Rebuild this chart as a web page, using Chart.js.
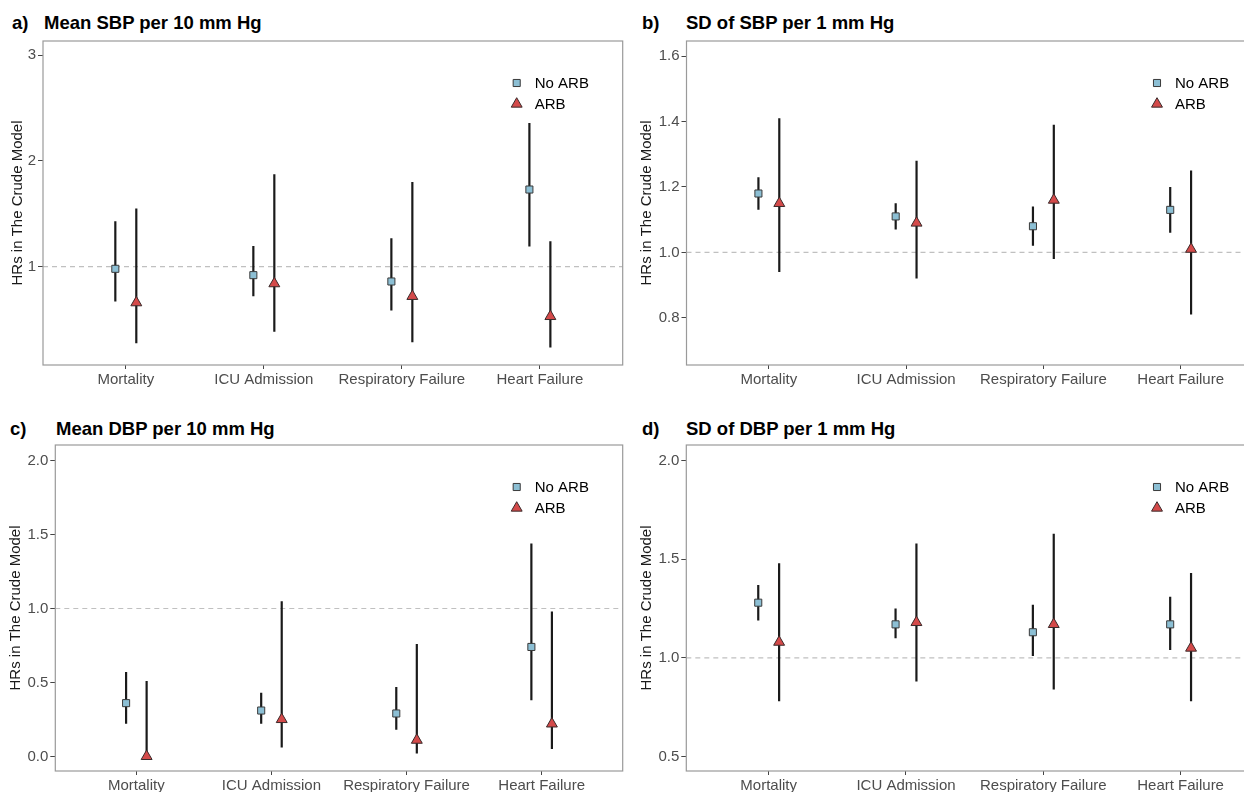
<!DOCTYPE html>
<html>
<head>
<meta charset="utf-8">
<script src="https://cdn.jsdelivr.net/npm/chart.js@4"></script>
<style>
  html, body { margin: 0; padding: 0; background: #fff; }
  body { width: 1244px; height: 792px; overflow: hidden; position: relative; font-family: "Liberation Sans", Arial, sans-serif; }
  canvas { position: absolute; }
  .ttl { position: absolute; font-weight: bold; font-size: 18.5px; line-height: 20px; color: #000; white-space: nowrap; }
</style>
</head>
<body>
<div class="ttl" style="left:12px;top:13px">a)</div>
<div class="ttl" style="left:44px;top:13px">Mean SBP per 10 mm Hg</div>
<div class="ttl" style="left:642px;top:13px">b)</div>
<div class="ttl" style="left:686px;top:13px">SD of SBP per 1 mm Hg</div>
<div class="ttl" style="left:10px;top:419px">c)</div>
<div class="ttl" style="left:56px;top:419px">Mean DBP per 10 mm Hg</div>
<div class="ttl" style="left:642px;top:419px">d)</div>
<div class="ttl" style="left:686px;top:419px">SD of DBP per 1 mm Hg</div>

<canvas id="chartA" width="630" height="392" style="left:0;top:0"></canvas>
<canvas id="chartB" width="670" height="392" style="left:620px;top:0"></canvas>
<canvas id="chartC" width="630" height="400" style="left:0;top:392px"></canvas>
<canvas id="chartD" width="670" height="400" style="left:620px;top:392px"></canvas>

<script>
const categories = ["Mortality", "ICU Admission", "Respiratory Failure", "Heart Failure"];
const seriesNames = ["No ARB", "ARB"];

// a) Mean SBP per 10 mm Hg
const sbpMeanNoArb = [0.98, 0.92, 0.86, 1.73];
const sbpMeanNoArbLo = [0.67, 0.72, 0.585, 1.19];
const sbpMeanNoArbHi = [1.43, 1.195, 1.27, 2.36];
const sbpMeanArb = [0.66, 0.84, 0.72, 0.53];
const sbpMeanArbLo = [0.275, 0.385, 0.285, 0.235];
const sbpMeanArbHi = [1.55, 1.875, 1.80, 1.24];
const sbpMeanTicks = [1, 2, 3];

// b) SD of SBP per 1 mm Hg
const sbpSdNoArb = [1.18, 1.11, 1.08, 1.13];
const sbpSdNoArbLo = [1.13, 1.07, 1.02, 1.06];
const sbpSdNoArbHi = [1.23, 1.15, 1.14, 1.20];
const sbpSdArb = [1.15, 1.09, 1.16, 1.01];
const sbpSdArbLo = [0.94, 0.92, 0.98, 0.81];
const sbpSdArbHi = [1.41, 1.28, 1.39, 1.25];
const sbpSdTicks = [0.8, 1.0, 1.2, 1.4, 1.6];

// c) Mean DBP per 10 mm Hg
const dbpMeanNoArb = [0.36, 0.31, 0.29, 0.74];
const dbpMeanNoArbLo = [0.22, 0.22, 0.18, 0.38];
const dbpMeanNoArbHi = [0.57, 0.43, 0.47, 1.44];
const dbpMeanArb = [0.0, 0.25, 0.11, 0.22];
const dbpMeanArbLo = [0.0, 0.06, 0.02, 0.05];
const dbpMeanArbHi = [0.51, 1.05, 0.76, 0.98];
const dbpMeanTicks = [0.0, 0.5, 1.0, 1.5, 2.0];

// d) SD of DBP per 1 mm Hg
const dbpSdNoArb = [1.28, 1.17, 1.13, 1.17];
const dbpSdNoArbLo = [1.19, 1.10, 1.01, 1.04];
const dbpSdNoArbHi = [1.37, 1.25, 1.27, 1.31];
const dbpSdArb = [1.08, 1.18, 1.17, 1.05];
const dbpSdArbLo = [0.78, 0.88, 0.84, 0.78];
const dbpSdArbHi = [1.48, 1.58, 1.63, 1.43];
const dbpSdTicks = [0.5, 1.0, 1.5, 2.0];

const FONT = "'Liberation Sans', Arial, sans-serif";
const DODGE = 0.076;

//枠線と凡例
const panelPlugin = {
  id: "panelBox",
  afterDatasetsDraw(chart) {
    const a = chart.chartArea;
    const c = chart.ctx;
    c.save();
    c.strokeStyle = "#9a9a9a";
    c.lineWidth = 1.2;
    c.strokeRect(a.left, a.top, a.right - a.left, a.bottom - a.top);

    // legend
    const mx = a.right - 106;
    const tx = a.right - 88;
    c.font = "15px " + FONT;
    c.textBaseline = "middle";
    chart.data.datasets.forEach(function (ds) {
      if (!ds.legendRow) return;
      const y = a.top + ds.legendRow;
      c.fillStyle = ds.backgroundColor;
      c.strokeStyle = ds.borderColor;
      c.lineWidth = ds.borderWidth;
      Chart.helpers.drawPoint(c, { pointStyle: ds.pointStyle, radius: ds.pointRadius, borderWidth: ds.borderWidth, rotation: 0 }, mx, y);
      c.fillStyle = "#000";
      c.fillText(ds.label, tx, y + 1);
    });
    c.restore();
  }
};

function ErrorBars(lo, hi, off) {
  const pts = [];
  lo.forEach(function (v, i) {
    pts.push({ x: i + 1 + off, y: lo[i] });
    pts.push({ x: i + 1 + off, y: hi[i] });
    pts.push({ x: i + 1 + off, y: null });
  });
  return pts;
}

function Points(mid, off) {
  return mid.map(function (v, i) {
    return { x: i + 1 + off, y: v };
  });
}

function CreatePanel(id, p) {
  const ctx = document.getElementById(id);
  const datasets = [
    {
      type: "scatter", label: seriesNames[0], data: Points(p.noArb, -DODGE),
      pointStyle: "rect", pointRadius: 5, borderWidth: 1,
      backgroundColor: "#8cbfd4", borderColor: "#3a3a3a", order: 0, legendRow: 42
    },
    {
      type: "scatter", label: seriesNames[1], data: Points(p.arb, DODGE),
      pointStyle: "triangle", pointRadius: 6.3, borderWidth: 1,
      backgroundColor: "#d44a4a", borderColor: "#3a2a2a", order: 0, legendRow: 63
    },
    {
      type: "line", data: ErrorBars(p.noArbLo, p.noArbHi, -DODGE),
      borderColor: "#1a1a1a", borderWidth: 2.2, pointRadius: 0, spanGaps: false, order: 1
    },
    {
      type: "line", data: ErrorBars(p.arbLo, p.arbHi, DODGE),
      borderColor: "#1a1a1a", borderWidth: 2.2, pointRadius: 0, spanGaps: false, order: 1
    },
    {
      type: "line", data: [{ x: 0.4, y: 1 }, { x: 4.6, y: 1 }],
      borderColor: "#c0c0c0", borderWidth: 1.2, borderDash: [5, 4], pointRadius: 0, order: 2
    }
  ];

  new Chart(ctx, {
    type: "scatter",
    data: { datasets: datasets },
    options: {
      responsive: false,
      animation: false,
      events: [],
      layout: { padding: { top: p.padTop, right: p.padRight, left: 0, bottom: 0 } },
      plugins: { legend: { display: false }, tooltip: { enabled: false } },
      scales: {
        x: {
          type: "linear", min: 0.4, max: 4.6,
          afterBuildTicks: function (s) { s.ticks = [1, 2, 3, 4].map(function (v) { return { value: v }; }); },
          afterFit: function (s) { s.height = p.xHeight; },
          grid: { drawOnChartArea: false, drawTicks: true, tickLength: 4, color: "#444" },
          border: { display: false },
          ticks: {
            padding: 2, color: "#4d4d4d", font: { family: FONT, size: 15 }, maxRotation: 0, autoSkip: false,
            callback: function (v) { return categories[v - 1]; }
          }
        },
        y: {
          type: "linear", min: p.min, max: p.max,
          afterBuildTicks: function (s) { s.ticks = p.ticks.map(function (v) { return { value: v }; }); },
          afterFit: function (s) { s.width = p.yWidth; },
          grid: { drawOnChartArea: false, drawTicks: true, tickLength: 5, color: "#444" },
          border: { display: false },
          ticks: {
            padding: 2, color: "#4d4d4d", font: { family: FONT, size: 15 },
            callback: function (v) { return v.toFixed(p.dec); }
          },
          title: {
            display: true, text: "HRs in The Crude Model", color: "#1a1a1a",
            font: { family: FONT, size: 15 }, padding: { top: p.titlePad, bottom: 0 }
          }
        }
      }
    },
    plugins: [panelPlugin]
  });
}

CreatePanel("chartA", {
  noArb: sbpMeanNoArb, noArbLo: sbpMeanNoArbLo, noArbHi: sbpMeanNoArbHi,
  arb: sbpMeanArb, arbLo: sbpMeanArbLo, arbHi: sbpMeanArbHi,
  ticks: sbpMeanTicks, dec: 0, min: 0.07, max: 3.135,
  padTop: 41, padRight: 5, xHeight: 27, yWidth: 43, titlePad: 8.5
});
CreatePanel("chartB", {
  noArb: sbpSdNoArb, noArbLo: sbpSdNoArbLo, noArbHi: sbpSdNoArbHi,
  arb: sbpSdArb, arbLo: sbpSdArbLo, arbHi: sbpSdArbHi,
  ticks: sbpSdTicks, dec: 1, min: 0.656, max: 1.646,
  padTop: 41, padRight: 27, xHeight: 27, yWidth: 66.5, titlePad: 18
});
CreatePanel("chartC", {
  noArb: dbpMeanNoArb, noArbLo: dbpMeanNoArbLo, noArbHi: dbpMeanNoArbHi,
  arb: dbpMeanArb, arbLo: dbpMeanArbLo, arbHi: dbpMeanArbHi,
  ticks: dbpMeanTicks, dec: 1, min: -0.099, max: 2.106,
  padTop: 53, padRight: 5, xHeight: 21, yWidth: 55.3, titlePad: 7
});
CreatePanel("chartD", {
  noArb: dbpSdNoArb, noArbLo: dbpSdNoArbLo, noArbHi: dbpSdNoArbHi,
  arb: dbpSdArb, arbLo: dbpSdArbLo, arbHi: dbpSdArbHi,
  ticks: dbpSdTicks, dec: 1, min: 0.426, max: 2.08,
  padTop: 53, padRight: 27, xHeight: 21, yWidth: 66.3, titlePad: 18
});
</script>
</body>
</html>
